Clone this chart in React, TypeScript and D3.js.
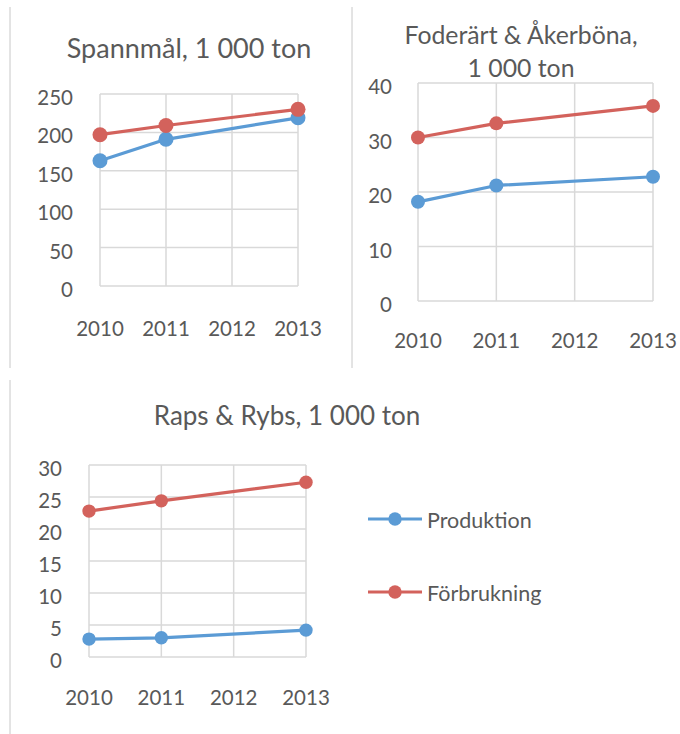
import React from "react";
import * as d3 from "d3";

const years = [2010, 2011, 2012, 2013];

// 2012 is missing in every series, the line is drawn straight across it
const spannmalProd = [163, 191, null, 219];
const spannmalForb = [197, 209, null, 230];
const foderProd = [18.2, 21.2, null, 22.8];
const foderForb = [30.0, 32.6, null, 35.8];
const rapsProd = [2.8, 3.0, null, 4.2];
const rapsForb = [22.8, 24.4, null, 27.3];

const spannmalTicks = [0, 50, 100, 150, 200, 250];
const foderTicks = [0, 10, 20, 30, 40];
const rapsTicks = [0, 5, 10, 15, 20, 25, 30];

const seriesNames = ["Produktion", "Förbrukning"];
const colors = ["#5B9BD5", "#D3625C"];
const textColor = "#595959";
const gridColor = "#D9D9D9";
const font = "Lato, 'Open Sans', sans-serif";

type PanelProps = {
  title: string[];
  titleX: number;
  titleY: number[];
  titleSize: number;
  prod: (number | null)[];
  forb: (number | null)[];
  ticks: number[];
  x0: number;
  x1: number;
  y0: number;
  y1: number;
  labelGap: number;
  xLabelY: number;
  fontSize: number;
  r: number;
};

function Panel(p: PanelProps) {
  const x = d3.scalePoint<number>().domain(years).range([p.x0, p.x1]);
  const y = d3
    .scaleLinear()
    .domain([0, d3.max(p.ticks) as number])
    .range([p.y0, p.y1]);

  const line = d3
    .line<[number, number | null]>()
    .x((d) => x(d[0]) as number)
    .y((d) => y(d[1] as number));

  const series = [p.prod, p.forb].map((vals) =>
    years
      .map((yr, i) => [yr, vals[i]] as [number, number | null])
      .filter((d) => d[1] != null)
  );

  return (
    <g>
      {/* grid */}
      {p.ticks.map((t) => (
        <line
          key={"h" + t}
          x1={p.x0}
          x2={p.x1}
          y1={y(t)}
          y2={y(t)}
          stroke={gridColor}
          strokeWidth={1.5}
        />
      ))}
      {years.map((yr) => (
        <line
          key={"v" + yr}
          x1={x(yr)}
          x2={x(yr)}
          y1={p.y0}
          y2={p.y1}
          stroke={gridColor}
          strokeWidth={1.5}
        />
      ))}
      {/* y labels */}
      {p.ticks.map((t) => (
        <text
          key={"yl" + t}
          x={p.x0 - p.labelGap}
          y={y(t) + 11}
          textAnchor="end"
          fontSize={p.fontSize}
          fill={textColor}
        >
          {t}
        </text>
      ))}
      {/* x labels */}
      {years.map((yr) => (
        <text
          key={"xl" + yr}
          x={x(yr)}
          y={p.xLabelY}
          textAnchor="middle"
          fontSize={p.fontSize}
          fill={textColor}
        >
          {yr}
        </text>
      ))}
      {/* series */}
      {series.map((s, i) => (
        <g key={"s" + i}>
          <path
            d={line(s) || ""}
            fill="none"
            stroke={colors[i]}
            strokeWidth={3.2}
            strokeLinejoin="round"
          />
          {s.map((d) => (
            <circle
              key={d[0]}
              cx={x(d[0])}
              cy={y(d[1] as number)}
              r={p.r}
              fill={colors[i]}
            />
          ))}
        </g>
      ))}
      {/* title */}
      {p.title.map((t, i) => (
        <text
          key={"t" + i}
          x={p.titleX}
          y={p.titleY[i]}
          textAnchor="middle"
          fontSize={p.titleSize}
          fill={textColor}
        >
          {t}
        </text>
      ))}
    </g>
  );
}

export default function App() {
  return (
    <svg
      width={680}
      height={734}
      style={{ position: "absolute", left: 0, top: 0, background: "#fff" }}
      fontFamily={font}
    >
      {/* panel separators */}
      <line x1={10} x2={10} y1={7} y2={368} stroke="#C8C8C8" strokeWidth={1} />
      <line x1={352} x2={352} y1={7} y2={368} stroke="#C8C8C8" strokeWidth={1} />
      <line x1={10} x2={10} y1={380} y2={734} stroke="#C8C8C8" strokeWidth={1} />

      <Panel
        title={["Spannmål, 1 000 ton"]}
        titleX={189}
        titleY={[58]}
        titleSize={27}
        prod={spannmalProd}
        forb={spannmalForb}
        ticks={spannmalTicks}
        x0={100}
        x1={298}
        y0={286}
        y1={94}
        labelGap={27}
        xLabelY={336}
        fontSize={20.5}
        r={7.5}
      />
      <Panel
        title={["Foderärt & Åkerböna,", "1 000 ton"]}
        titleX={521}
        titleY={[44, 77]}
        titleSize={24.8}
        prod={foderProd}
        forb={foderForb}
        ticks={foderTicks}
        x0={418}
        x1={653}
        y0={301}
        y1={83}
        labelGap={26}
        xLabelY={348}
        fontSize={20.5}
        r={7}
      />
      <Panel
        title={["Raps & Rybs, 1 000 ton"]}
        titleX={287}
        titleY={[425]}
        titleSize={26}
        prod={rapsProd}
        forb={rapsForb}
        ticks={rapsTicks}
        x0={89}
        x1={306}
        y0={657}
        y1={465}
        labelGap={27}
        xLabelY={705}
        fontSize={20.5}
        r={6.7}
      />

      {/* legend */}
      {seriesNames.map((name, i) => {
        const ly = 519 + i * 73;
        return (
          <g key={name}>
            <line x1={368} x2={422} y1={ly} y2={ly} stroke={colors[i]} strokeWidth={3.2} />
            <circle cx={395} cy={ly} r={6.7} fill={colors[i]} />
            <text x={427} y={ly + 9} fontSize={21.5} fill={textColor}>
              {name}
            </text>
          </g>
        );
      })}
    </svg>
  );
}
